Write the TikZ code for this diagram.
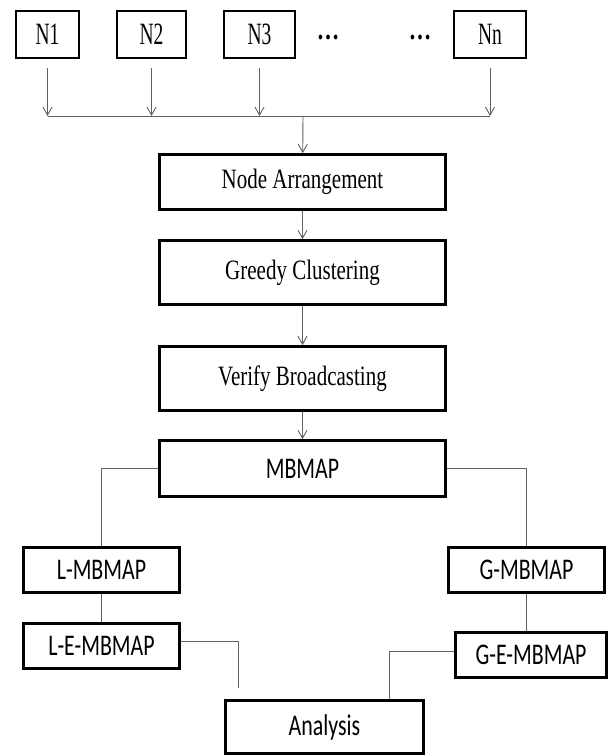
\documentclass[tikz,border=0pt]{standalone}
\usepackage{fontspec}
\newfontfamily\serifbox[FakeStretch=0.75]{Liberation Serif}
\newfontfamily\serifsmall[FakeStretch=0.63]{Liberation Serif}
\newfontfamily\sansbox[FakeStretch=0.73]{Carlito}
\usetikzlibrary{arrows.meta}

\begin{document}
\begin{tikzpicture}[x=1pt,y=-1pt,
  box/.style 2 args={draw,line width=2.7pt,minimum width=#1,minimum height=#2,inner sep=0pt},
  nbox/.style 2 args={box={#1}{#2},font=\serifsmall\fontsize{31}{33}\selectfont},
  tbox/.style 2 args={box={#1}{#2},font=\serifbox\fontsize{28}{30}\selectfont},
  sbox/.style 2 args={box={#1}{#2},font=\sansbox\fontsize{30}{32}\selectfont},
  more/.style={font=\serifbox\bfseries\fontsize{30}{32}\selectfont},
  arr/.style={draw=black!62,line width=0.9pt,-{Straight Barb[length=8pt,width=9pt]}},
  link/.style={draw=black!62,line width=0.9pt}]
\useasboundingbox (0,0) rectangle (609,755);
\clip (0,0) rectangle (609,755);

% the input nodes
\node[nbox={63pt}{47pt}] (n1) at (47.5,34.5) {N1};
\node[nbox={69pt}{47pt}] (n2) at (151.5,34.5) {N2};
\node[nbox={71pt}{47pt}] (n3) at (259.5,34.5) {N3};
\node[more] (d1) at (328,37) {\dots};
\node[more] (d2) at (420,37) {\dots};
\node[nbox={72pt}{47pt}] (nn) at (490,34.5) {Nn};

% main chain
\node[tbox={286pt}{55pt}] (arrange) at (302.5,182) {Node Arrangement};
\node[tbox={286pt}{64pt}] (greedy) at (302.5,272.5) {Greedy Clustering};
\node[tbox={286pt}{64pt}] (verify) at (302.5,378.5) {Verify Broadcasting};
\node[sbox={286pt}{56pt}] (mbmap) at (302.5,468.5) {MBMAP};

% local and global branches
\node[sbox={156pt}{45pt}] (lmbmap) at (101.5,570) {L-MBMAP};
\node[sbox={156pt}{45pt}] (lembmap) at (101.5,646) {L-E-MBMAP};
\node[sbox={156pt}{45pt}] (gmbmap) at (526.5,570) {G-MBMAP};
\node[sbox={151pt}{45pt}] (gembmap) at (531,655) {G-E-MBMAP};
\node[sbox={198pt}{53pt}] (analysis) at (324.5,727) {Analysis};

% collecting bus
\coordinate (bus) at (303,116);
\foreach \n in {n1,n2,n3,nn}
  \draw[arr,shorten <=9pt] (\n.south) -- (\n.south |- bus);
\draw[link] (n1.south |- bus) -- (nn.south |- bus);
\draw[arr] (bus) -- (arrange);
\draw[arr] (arrange) -- (greedy);
\draw[arr] (greedy) -- (verify);
\draw[arr] (verify) -- (mbmap);

\draw[link] (mbmap.west) -| (lmbmap.north);
\draw[link] (mbmap.east) -| (gmbmap.north);
\draw[link] (lmbmap) -- (lembmap);
\draw[link] (gmbmap.south) -- (gmbmap.south |- gembmap.north);
\coordinate (lend) at (238,688);
\draw[link] ([yshift=5pt]lembmap.east) -| (lend);
\draw[link] ([yshift=4pt]gembmap.west) -| ([xshift=64.5pt]analysis.north);
\end{tikzpicture}
\end{document}
